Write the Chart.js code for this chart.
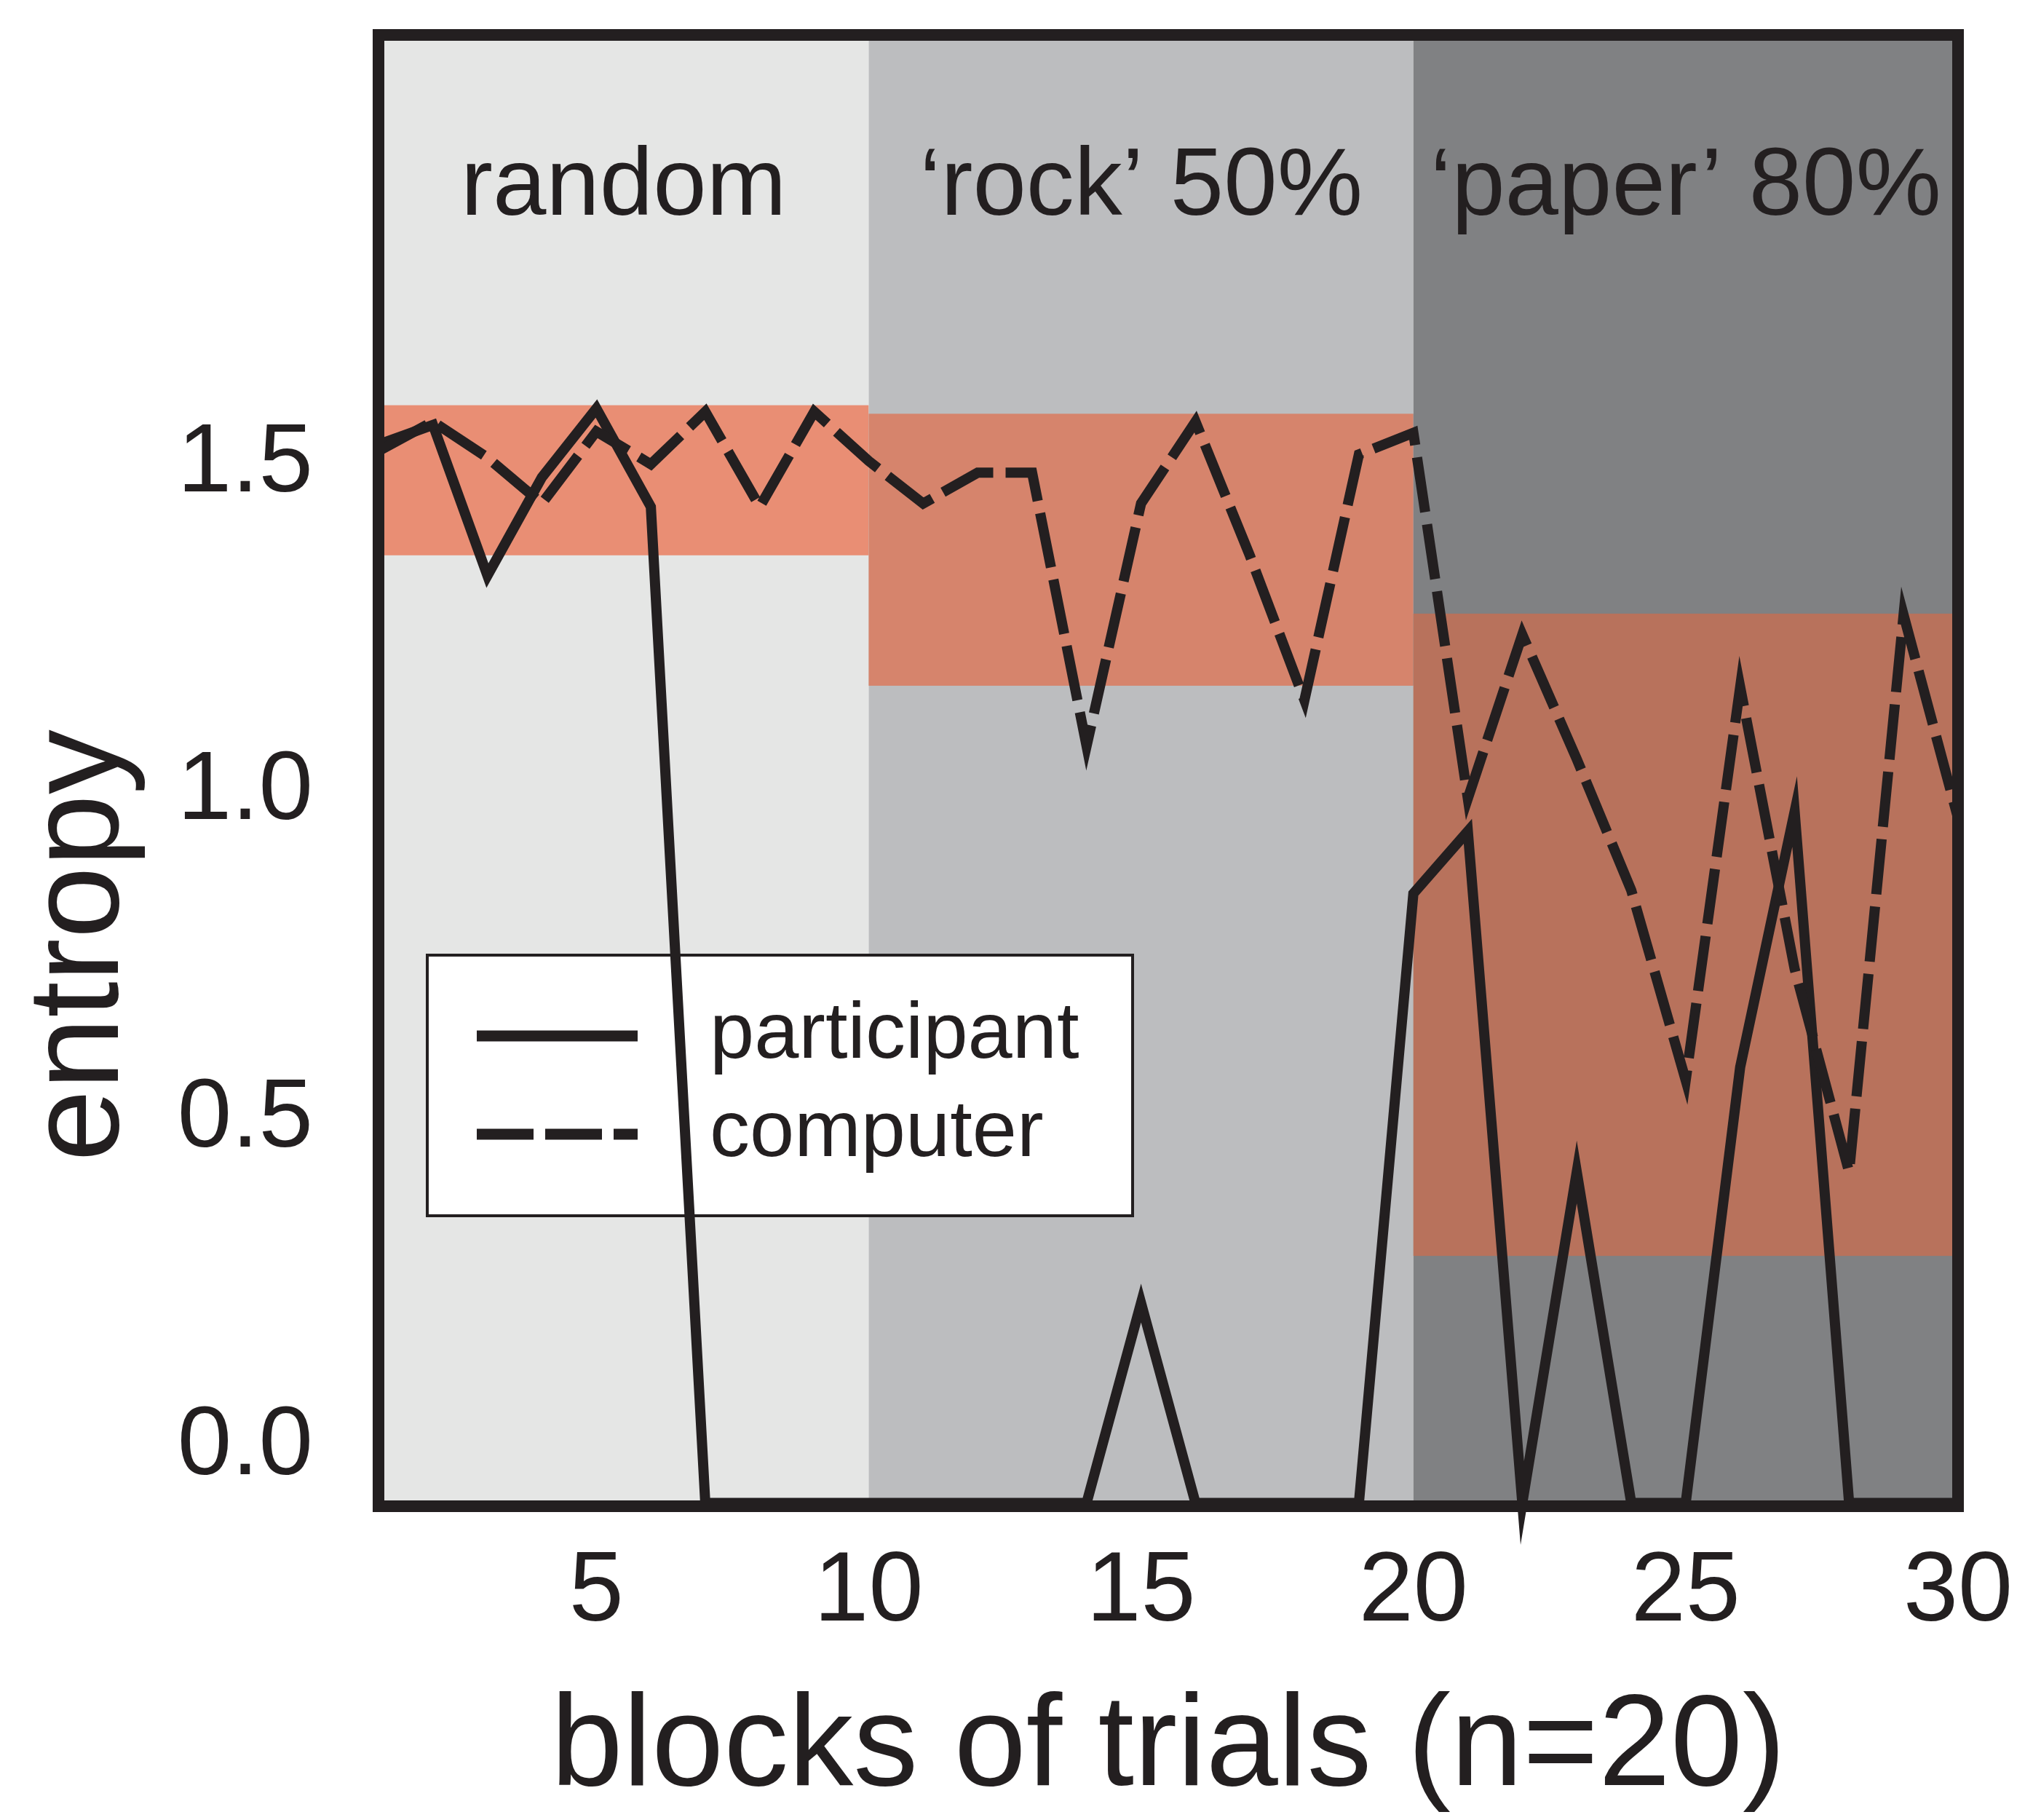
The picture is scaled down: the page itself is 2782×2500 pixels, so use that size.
<!DOCTYPE html>
<html>
<head>
<meta charset="utf-8">
<title>entropy per block</title>
<script src="https://cdn.jsdelivr.net/npm/chart.js@4.4.1/dist/chart.umd.min.js"></script>
<style>
  html, body { margin: 0; padding: 0; background: #ffffff; }
  #wrap { width: 2782px; height: 2500px; position: relative; }
</style>
</head>
<body>
<div id="wrap"><canvas id="chart"></canvas></div>
<script>
// Blocks of 20 trials
const blocks = [1, 2, 3, 4, 5, 6, 7, 8, 9, 10, 11, 12, 13, 14, 15,
                16, 17, 18, 19, 20, 21, 22, 23, 24, 25, 26, 27, 28, 29, 30];

// Entropy of the participant's choices in each block
const participant = [1.53, 1.56, 1.33, 1.48, 1.585, 1.435, -0.085, -0.085, -0.085, -0.085,
                     -0.085, -0.085, -0.085, -0.085, 0.22, -0.085, -0.085, -0.085, -0.085, 0.845,
                     0.94, -0.085, 0.42, -0.085, -0.085, 0.58, 0.97, -0.085, -0.085, -0.085];

// Entropy of the computer's choices in each block
const computer = [1.52, 1.565, 1.51, 1.44, 1.55, 1.50, 1.58, 1.435, 1.58, 1.505,
                  1.44, 1.487, 1.487, 1.07, 1.44, 1.565, 1.36, 1.14, 1.515, 1.548,
                  0.99, 1.24, 1.05, 0.85, 0.56, 1.16, 0.73, 0.42, 1.27, 0.96];

// Computer strategy phases: names and block boundaries
const phaseNames = ['random', '\u2018rock\u2019 50%', '\u2018paper\u2019 80%'];
const phaseEdges = [1, 10, 20, 30];

// Shaded entropy range of each phase
const bandLow  = [1.361, 1.162, 0.292];
const bandHigh = [1.590, 1.577, 1.272];

// Axis tick labels
const xTickValues = [5, 10, 15, 20, 25, 30];
const yTickValues = [0, 0.5, 1.0, 1.5];

const INK = '#231f20';
const FONT = '"Liberation Sans", Arial, Helvetica, sans-serif';
const phaseFill = ['#e5e6e5', '#bcbdbf', '#808183'];
const bandFill  = ['#e98e74', '#d6846c', '#b8725c'];

Chart.defaults.font.family = FONT;
Chart.defaults.color = INK;

const pairs = (vals) => blocks.map((b, i) => ({ x: b, y: vals[i] }));

// keep the plot frame where the layout padding puts it
const noOverhang = (s) => {
  s.paddingTop = 0; s.paddingBottom = 0; s.paddingLeft = 0; s.paddingRight = 0;
};

// Phase backgrounds, ranges, phase names and the legend box (under the lines)
const backdrop = {
  id: 'backdrop',
  beforeDatasetsDraw(chart) {
    const { ctx, chartArea: a, scales: { x, y } } = chart;
    ctx.save();
    for (let i = 0; i < phaseNames.length; i++) {
      const x0 = x.getPixelForValue(phaseEdges[i]);
      const x1 = x.getPixelForValue(phaseEdges[i + 1]);
      ctx.fillStyle = phaseFill[i];
      ctx.fillRect(x0, a.top, x1 - x0, a.bottom - a.top);
      const yT = y.getPixelForValue(bandHigh[i]);
      const yB = y.getPixelForValue(bandLow[i]);
      ctx.fillStyle = bandFill[i];
      ctx.fillRect(x0, yT, x1 - x0, yB - yT);
      ctx.fillStyle = INK;
      ctx.font = '132px ' + FONT;
      ctx.textAlign = 'center';
      ctx.textBaseline = 'alphabetic';
      ctx.fillText(phaseNames[i], (x0 + x1) / 2, a.top + 247);
    }

    // legend
    const box = { left: 587, top: 1312, right: 1556, bottom: 1670 };
    ctx.fillStyle = '#ffffff';
    ctx.fillRect(box.left, box.top, box.right - box.left, box.bottom - box.top);
    ctx.strokeStyle = INK;
    ctx.lineWidth = 4;
    ctx.strokeRect(box.left, box.top, box.right - box.left, box.bottom - box.top);
    const rows = [1423, 1558];
    chart.data.datasets.forEach((ds, i) => {
      ctx.beginPath();
      ctx.setLineDash(ds.borderDash ? [78, 16] : []);
      ctx.lineWidth = 15;
      ctx.lineCap = 'butt';
      ctx.strokeStyle = INK;
      ctx.moveTo(655, rows[i]);
      ctx.lineTo(876, rows[i]);
      ctx.stroke();
      ctx.setLineDash([]);
      ctx.fillStyle = INK;
      ctx.font = '110px ' + FONT;
      ctx.textAlign = 'left';
      ctx.textBaseline = 'alphabetic';
      ctx.fillText(ds.label, 975, rows[i] + 30);
    });
    ctx.restore();
  },
  afterDatasetsDraw(chart) {
    const { ctx, chartArea: a } = chart;
    ctx.save();
    ctx.strokeStyle = INK;
    ctx.lineWidth = 16;
    ctx.lineJoin = 'miter';
    ctx.strokeRect(a.left, a.top, a.right - a.left, a.bottom - a.top);

    // y-axis title
    ctx.translate(162, 1299);
    ctx.rotate(-Math.PI / 2);
    ctx.fillStyle = INK;
    ctx.font = '178px ' + FONT;
    ctx.textAlign = 'center';
    ctx.textBaseline = 'alphabetic';
    ctx.fillText('entropy', 0, 0);
    ctx.restore();
  }
};

new Chart(document.getElementById('chart'), {
  type: 'line',
  data: {
    datasets: [
      {
        label: 'participant',
        data: pairs(participant),
        borderColor: INK,
        borderWidth: 14,
        borderJoinStyle: 'miter',
        borderCapStyle: 'butt',
        pointRadius: 0,
        tension: 0,
        clip: false,
        order: 1
      },
      {
        label: 'computer',
        data: pairs(computer),
        borderColor: INK,
        borderWidth: 14,
        borderDash: [76, 17],
        borderJoinStyle: 'miter',
        borderCapStyle: 'butt',
        pointRadius: 0,
        tension: 0,
        clip: false,
        order: 0
      }
    ]
  },
  options: {
    responsive: true,
    maintainAspectRatio: false,
    devicePixelRatio: 1,
    animation: false,
    layout: { padding: { top: 48, right: 92, left: 0, bottom: 0 } },
    plugins: {
      legend: { display: false },
      tooltip: { enabled: false }
    },
    scales: {
      x: {
        type: 'linear',
        min: 1,
        max: 30,
        grid: { display: false, drawTicks: false },
        border: { display: false },
        afterBuildTicks: (s) => { s.ticks = xTickValues.map(v => ({ value: v })); },
        afterFit: (s) => { s.height = 431; noOverhang(s); },
        ticks: {
          autoSkip: false,
          maxRotation: 0,
          padding: 52,
          color: INK,
          font: { size: 135, lineHeight: 1 }
        },
        title: {
          display: true,
          text: 'blocks of trials (n=20)',
          color: INK,
          font: { size: 178, lineHeight: 1 },
          padding: { top: 0, bottom: 8 }
        }
      },
      y: {
        type: 'linear',
        min: -0.09,
        max: 2.155,
        grid: { display: false, drawTicks: false },
        border: { display: false },
        afterBuildTicks: (s) => { s.ticks = yTickValues.map(v => ({ value: v })); },
        afterFit: (s) => { s.width = 520; noOverhang(s); },
        ticks: {
          autoSkip: false,
          padding: 90,
          color: INK,
          font: { size: 134, lineHeight: 1 },
          callback: (v) => Number(v).toFixed(1)
        }
      }
    }
  },
  plugins: [backdrop]
});
</script>
</body>
</html>
